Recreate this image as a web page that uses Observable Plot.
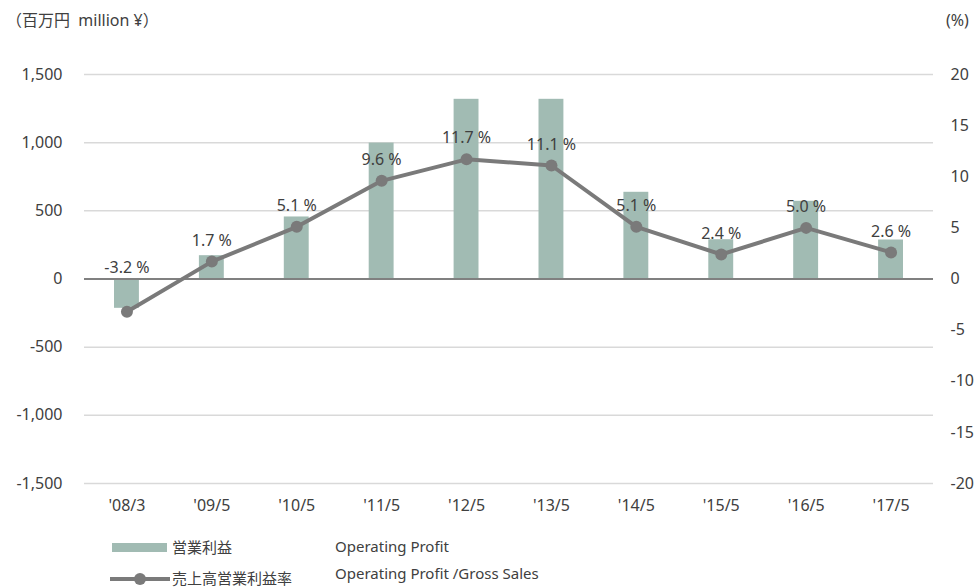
<!DOCTYPE html>
<html>
<head>
<meta charset="utf-8">
<script src="https://cdn.jsdelivr.net/npm/d3@7"></script>
<script src="https://cdn.jsdelivr.net/npm/@observablehq/plot@0.6"></script>
<style>
  body { margin: 0; background: #fff; }
  #wrap { position: relative; width: 978px; height: 587px; overflow: hidden;
    font-family: "Noto Sans", "Noto Sans CJK JP", sans-serif; color: #404040; }
  .lbl { position: absolute; white-space: nowrap; font-size: 15px; line-height: 1; }
  .sw { position: absolute; }
</style>
</head>
<body>
<div id="wrap"></div>
<script>
const categories = ["'08/3", "'09/5", "'10/5", "'11/5", "'12/5", "'13/5", "'14/5", "'15/5", "'16/5", "'17/5"];
const operatingProfit = [-215, 171, 455, 997, 1318, 1318, 636, 288, 570, 286];
const marginPct = [-3.2, 1.7, 5.1, 9.6, 11.7, 11.1, 5.1, 2.4, 5.0, 2.6];
const leftTicks = [-1500, -1000, -500, 0, 500, 1000, 1500];
const rightTicks = [-20, -15, -10, -5, 0, 5, 10, 15, 20];

const data = categories.map((c, i) => ({cat: c, profit: operatingProfit[i], pct: marginPct[i]}));
const k = 1500 / 20; // right-axis % to left-axis units
const fmt = v => Math.round(v).toLocaleString("en-US");

const barColor = "#a1bbb3";
const lineColor = "#7a7a7a";

const chart = Plot.plot({
  width: 978,
  height: 525,
  marginLeft: 84,
  marginRight: 45,
  marginTop: 74,
  marginBottom: 42,
  style: {fontSize: "16px", fontFamily: "'Noto Sans', 'Noto Sans CJK JP', sans-serif", color: "#404040", background: "#fff"},
  x: {type: "band", domain: categories, padding: 0, round: false},
  y: {domain: [-1500, 1500]},
  marks: [
    Plot.ruleY(leftTicks.filter(d => d !== 0), {stroke: "#d9d9d9", strokeWidth: 1.5}),
    Plot.barY(data, {x: "cat", y: "profit", fill: barColor, insetLeft: 30, insetRight: 30}),
    Plot.ruleY([0], {stroke: "#808080", strokeWidth: 2}),
    Plot.line(data, {x: "cat", y: d => d.pct * k, stroke: lineColor, strokeWidth: 4}),
    Plot.dot(data, {x: "cat", y: d => d.pct * k, r: 6, fill: lineColor, stroke: "none"}),
    Plot.text(data.filter(d => d.pct >= 0), {x: "cat", y: d => d.pct * k, text: d => d.pct.toFixed(1) + " %", dy: -21, fill: "#404040", fontSize: 16}),
    Plot.text(data.filter(d => d.pct < 0), {x: "cat", y: () => 0, text: d => d.pct.toFixed(1) + " %", dy: -11, fill: "#404040", fontSize: 16}),
    Plot.axisY({anchor: "left", ticks: leftTicks, tickFormat: fmt, tickSize: 0, tickPadding: 22, label: null}),
    Plot.axisY({anchor: "right", ticks: rightTicks.map(d => d * k), tickFormat: d => fmt(d / k), tickSize: 0, tickPadding: 17, label: null}),
    Plot.axisX({tickSize: 0, tickPadding: 16, label: null})
  ]
});

const wrap = document.getElementById("wrap");
chart.style.position = "absolute";
chart.style.left = "0px";
chart.style.top = "0px";
wrap.appendChild(chart);

function add(html, css, cls) {
  const el = document.createElement("div");
  el.className = cls || "lbl";
  el.innerHTML = html;
  Object.assign(el.style, css);
  wrap.appendChild(el);
  return el;
}
// axis unit labels
add("（百万円&nbsp;&nbsp;million ¥）", {left: "6px", top: "12px", fontSize: "16px"});
add("(%)", {left: "946px", top: "12px", fontSize: "16px"});

// legend
add("", {left: "112px", top: "543px", width: "55px", height: "9px", background: barColor}, "sw");
add("営業利益", {left: "172px", top: "540px"});
add("Operating Profit", {left: "335px", top: "539px"});
const lineSw = document.createElementNS("http://www.w3.org/2000/svg", "svg");
lineSw.setAttribute("width", "64"); lineSw.setAttribute("height", "16");
lineSw.style.position = "absolute"; lineSw.style.left = "108px"; lineSw.style.top = "571px";
lineSw.innerHTML = `<line x1="2" x2="62" y1="8" y2="8" stroke="${lineColor}" stroke-width="4"/><circle cx="32" cy="8" r="6" fill="${lineColor}"/>`;
wrap.appendChild(lineSw);
add("売上高営業利益率", {left: "172px", top: "571px"});
add("Operating Profit /Gross Sales", {left: "335px", top: "566px"});
</script>
</body>
</html>
